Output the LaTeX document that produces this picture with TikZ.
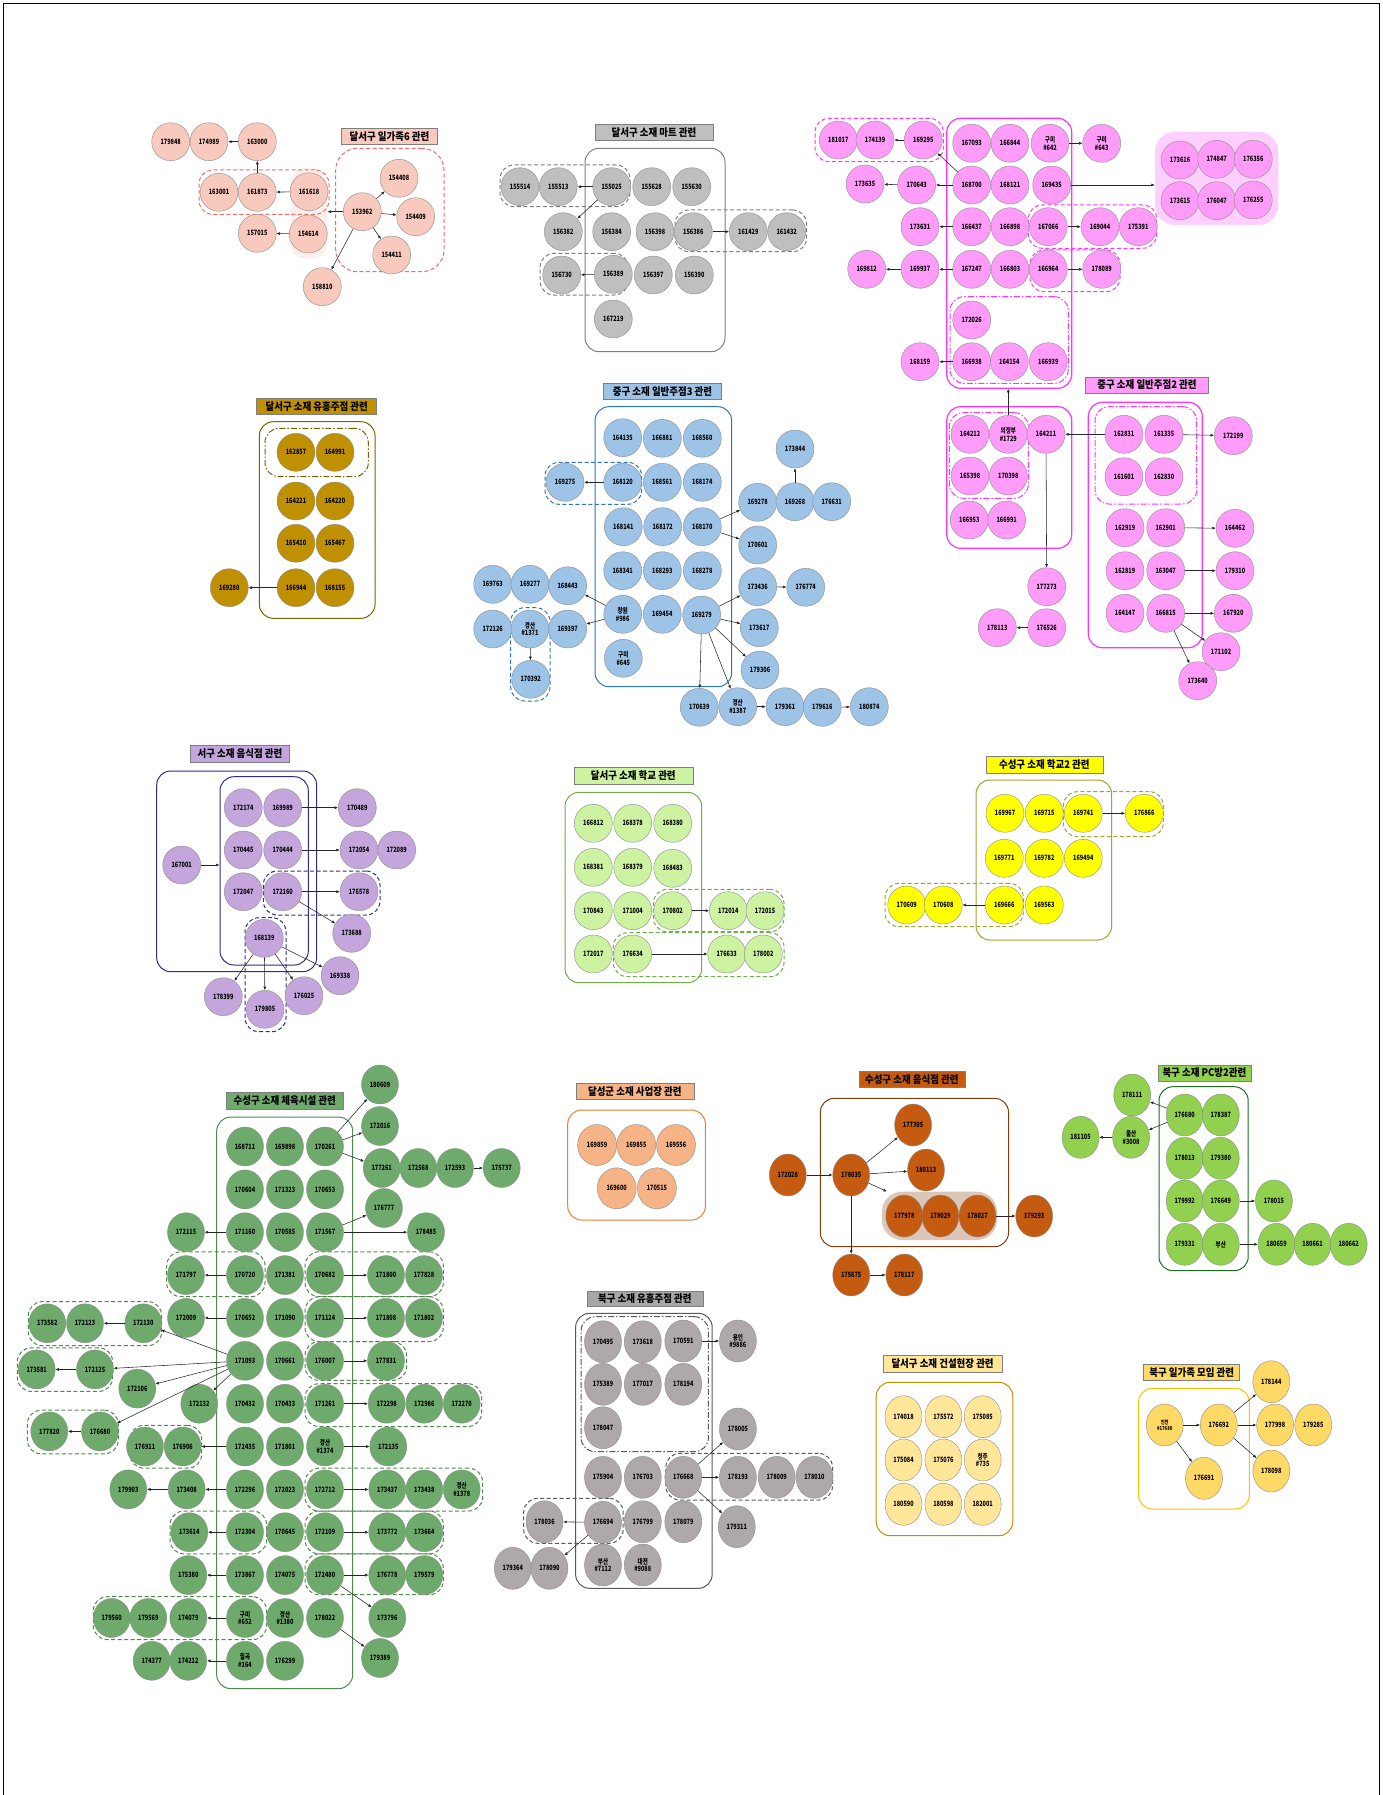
\documentclass[tikz,border=0pt]{standalone}
\usepackage{fontspec}
\setmainfont{Noto Sans CJK KR}
\newfontfamily\numfont[FakeStretch=0.76]{Noto Sans CJK KR}
\newfontfamily\ttlfont[FakeStretch=0.9]{Noto Sans CJK KR}
\usetikzlibrary{shapes.geometric, arrows.meta, fit}
\definecolor{cA}{HTML}{F8C9BD}
\definecolor{cAline}{HTML}{F06A6A}
\definecolor{cAshade}{HTML}{FDEFEC}
\definecolor{cB}{HTML}{BFBFBF}
\definecolor{cBline}{HTML}{7F7F7F}
\definecolor{cC}{HTML}{FF9CFA}
\definecolor{cCline}{HTML}{FF33FF}
\definecolor{cCshade}{HTML}{FFD0FF}
\definecolor{cE}{HTML}{BF9000}
\definecolor{cEline}{HTML}{7F6000}
\definecolor{cF}{HTML}{9DC3E6}
\definecolor{cFline}{HTML}{2E75B6}
\definecolor{cG}{HTML}{C4A6DD}
\definecolor{cGline}{HTML}{2E2E8A}
\definecolor{cH}{HTML}{CCF2A2}
\definecolor{cHline}{HTML}{70AD47}
\definecolor{cI}{HTML}{FFFF00}
\definecolor{cIline}{HTML}{A3A32E}
\definecolor{cJ}{HTML}{6DAA6B}
\definecolor{cJline}{HTML}{4E8A4C}
\definecolor{cK}{HTML}{F6B386}
\definecolor{cKline}{HTML}{ED7D31}
\definecolor{cL}{HTML}{C55A11}
\definecolor{cLline}{HTML}{843C0C}
\definecolor{cLshade}{HTML}{DCC6B8}
\definecolor{cM}{HTML}{92D050}
\definecolor{cMline}{HTML}{1E6B1E}
\definecolor{cN}{HTML}{AFA8AA}
\definecolor{cNline}{HTML}{595959}
\definecolor{cNtitle}{HTML}{A6A6A6}
\definecolor{cO}{HTML}{FFE699}
\definecolor{cOline}{HTML}{BF9000}
\definecolor{cP}{HTML}{FFD966}
\definecolor{cPline}{HTML}{FFC000}
\definecolor{nodeline}{HTML}{8C8C8C}
\definecolor{ttlline}{HTML}{7F7F7F}
\tikzset{
  nd/.style={ellipse, draw=nodeline, line width=0.4pt, minimum width=38pt, minimum height=38pt,
             inner sep=0pt, align=center, font=\numfont\bfseries\fontsize{7.3}{7.8}\selectfont},
  tall/.style={minimum width=37pt, minimum height=42pt},
  na/.style={nd, fill=cA}, nb/.style={nd, fill=cB}, nc/.style={nd, fill=cC},
  ne/.style={nd, fill=cE}, nf/.style={nd, fill=cF}, ng/.style={nd, fill=cG},
  nh/.style={nd, fill=cH}, ni/.style={nd, fill=cI}, nj/.style={nd, fill=cJ, minimum width=37pt, minimum height=39pt},
  nk/.style={nd, fill=cK, minimum width=39pt, minimum height=41pt},
  nl/.style={nd, tall, fill=cL}, nm/.style={nd, tall, fill=cM}, nn/.style={nd, tall, fill=cN},
  no/.style={nd, tall, fill=cO}, np/.style={nd, tall, fill=cP},
  ttl/.style={draw=ttlline, line width=0.5pt, fill=#1, inner sep=0pt, minimum height=16pt,
              font=\ttlfont\bfseries\fontsize{10.5}{12}\selectfont},
  grp/.style={draw=#1, line width=1pt, rounded corners=14pt, inner sep=0pt},
  dgrp/.style={grp=#1, dash pattern=on 4pt off 2.5pt},
  dagrp/.style={grp=#1, dash pattern=on 6pt off 2pt on 1.5pt off 2pt},
  shade/.style={fill=#1, rounded corners=14pt, inner sep=0pt},
  arr/.style={-{Latex[length=3.5pt,width=3pt]}, line width=0.55pt, draw=black!85}
}

\begin{document}
\begin{tikzpicture}[x=1pt, y=-1pt]
  \useasboundingbox (0,0) rectangle (1382,1795);
  \draw[line width=0.8pt] (3,1795) -- (3,3) -- (1379,3) -- (1379,1795);

  \node[shade=cAshade, fit={(290.7,168.3) (327.3,258.3)}] (ashade) {};
  \node[dgrp=cAline, fit={(199,170) (329,214.3)}] (agrp1) {};
  \node[dgrp=cAline, rounded corners=22pt, fit={(335.7,148.3) (444,271.7)}] (agrp2) {};
  \node[ttl=cA, minimum width=96pt] (attl) at (389.5,136.3) {달서구 일가족6 관련};
  \node[na] (a179848) at (170.7,141.7) {179848};
  \node[na] (a174989) at (209,141.7) {174989};
  \node[na] (a163000) at (257.3,141.7) {163000};
  \node[na] (a163001) at (219,192.3) {163001};
  \node[na] (a161873) at (257.3,192.3) {161873};
  \node[na] (a161618) at (309,191.7) {161618};
  \node[na] (a157015) at (257.3,233.3) {157015};
  \node[na] (a154614) at (308.3,234) {154614};
  \node[na] (a153962) at (362.3,211.7) {153962};
  \node[na] (a154408) at (399,178.3) {154408};
  \node[na] (a154409) at (415.7,216.7) {154409};
  \node[na] (a154411) at (391.7,255) {154411};
  \node[na] (a158810) at (322.3,286.7) {158810};
  \draw[arr] (a163000) -- (a174989);
  \draw[arr] (a161873) -- (a163000);
  \draw[arr] (a161618) -- (a161873);
  \draw[arr] (a154614) -- (a157015);
  \draw[arr] (a153962) -- (a153962 -| ashade.east);
  \draw[arr] (a153962) -- (a154408);
  \draw[arr] (a153962) -- (a154409);
  \draw[arr] (a153962) -- (a154411);
  \draw[arr] (a153962) -- (a158810);

  \node[grp=cBline, fit={(585,148.3) (725,351.7)}] (bbox) {};
  \node[dgrp=cBline, fit={(500,165) (630,206.7)}] (bgrp1) {};
  \node[dgrp=cBline, fit={(675,210) (806.7,251.7)}] (bgrp2) {};
  \node[dgrp=cBline, fit={(540,253.3) (628.3,295)}] (bgrp3) {};
  \node[ttl=cB, minimum width=118pt] (bttl) at (654,132.5) {달서구 소재 마트 관련};
  \node[nb] (b155514) at (520,186.7) {155514};
  \node[nb] (b155513) at (558.3,186.7) {155513};
  \node[nb] (b155025) at (611.7,186.7) {155025};
  \node[nb] (b155628) at (651.7,186.7) {155628};
  \node[nb] (b155630) at (691.7,186.7) {155630};
  \node[nb] (b156382) at (563.3,231.7) {156382};
  \node[nb] (b156384) at (611.7,231.7) {156384};
  \node[nb] (b156398) at (655,231.7) {156398};
  \node[nb] (b156386) at (693.3,231.7) {156386};
  \node[nb] (b161429) at (748.3,231.7) {161429};
  \node[nb] (b161432) at (786.7,231.7) {161432};
  \node[nb] (b156730) at (561.7,275) {156730};
  \node[nb] (b156389) at (613.3,274.3) {156389};
  \node[nb] (b156397) at (653.3,275) {156397};
  \node[nb] (b156390) at (694.3,275) {156390};
  \node[nb] (b167219) at (613.3,319) {167219};
  \draw[arr] (b155025) -- (b155513);
  \draw[arr] (b155025) -- (b156382);
  \draw[arr] (b156386) -- (b161429);
  \draw[arr] (b156389) -- (b156730);

  \node[shade=cCshade, rounded corners=20pt, fit={(1155,131.7) (1278.3,225)}] (cpink) {};
  \node[grp=cCline, line width=1.2pt, fit={(946.7,118.3) (1071.7,388.3)}] (cbox) {};
  \node[dgrp=cCline, fit={(815,118.3) (943.3,161.7)}] (cgrp1) {};
  \node[dgrp=cCline, fit={(1028.3,205) (1156.7,248.3)}] (cgrp2) {};
  \node[dgrp=cCline, fit={(1030,250) (1120,291.7)}] (cgrp3) {};
  \node[dagrp=cCline, fit={(950,296.7) (1068.3,383.3)}] (cgrp4) {};
  \node[nc] (c181017) at (838.3,140) {181017};
  \node[nc] (c174139) at (875,140) {174139};
  \node[nc] (c169295) at (923.3,140) {169295};
  \node[nc] (c167093) at (971.7,143.3) {167093};
  \node[nc] (c166844) at (1010,143.3) {166844};
  \node[nc] (c642) at (1050,143.3) {구미\\\#642};
  \node[nc] (c643) at (1101.7,143.3) {구미\\\#643};
  \node[nc] (c173635) at (865,184) {173635};
  \node[nc] (c170643) at (916.7,185) {170643};
  \node[nc] (c168700) at (971.7,185) {168700};
  \node[nc] (c168121) at (1010,185) {168121};
  \node[nc] (c169435) at (1051.7,185) {169435};
  \node[nc] (c173631) at (920,226.7) {173631};
  \node[nc] (c166437) at (971.7,226.7) {166437};
  \node[nc] (c166898) at (1010,226.7) {166898};
  \node[nc] (c167066) at (1048.3,226.7) {167066};
  \node[nc] (c169044) at (1100,226.7) {169044};
  \node[nc] (c175391) at (1138.3,226.7) {175391};
  \node[nc] (c169812) at (866.7,269.3) {169812};
  \node[nc] (c169937) at (920,269.3) {169937};
  \node[nc] (c167247) at (971.7,269.3) {167247};
  \node[nc] (c166803) at (1010,269.3) {166803};
  \node[nc] (c166964) at (1048.3,269.3) {166964};
  \node[nc] (c178089) at (1101.7,269.3) {178089};
  \node[nc] (c172026) at (971.7,320) {172026};
  \node[nc] (c168159) at (920,361.7) {168159};
  \node[nc] (c166938) at (971.7,361.7) {166938};
  \node[nc] (c164154) at (1009.3,361.7) {164154};
  \node[nc] (c166939) at (1048.3,361.7) {166939};
  \node[nc] (c173616) at (1180,160) {173616};
  \node[nc] (c174847) at (1216.7,159.3) {174847};
  \node[nc] (c176356) at (1253.3,159.3) {176356};
  \node[nc] (c173615) at (1180,200.7) {173615};
  \node[nc] (c176047) at (1216.7,200.7) {176047};
  \node[nc] (c176255) at (1253.3,200) {176255};
  \draw[arr] (c169295) -- (c174139);
  \draw[arr] (c168700) -- (c169295);
  \draw[arr] (c168700) -- (c170643);
  \draw[arr] (c170643) -- (c173635);
  \draw[arr] (c642) -- (c643);
  \draw[arr] (c169435) -- (c169435 -| cpink.west);
  \draw[arr] (c166437) -- (c173631);
  \draw[arr] (c167066) -- (c169044);
  \draw[arr] (c167247) -- (c169937);
  \draw[arr] (c169937) -- (c169812);
  \draw[arr] (c166964) -- (c178089);
  \draw[arr] (c166938) -- (c168159);

  \node[grp=cCline, line width=1.2pt, fit={(946.7,406.7) (1071.7,548.3)}] (dbox1) {};
  \node[dagrp=cCline, fit={(949.3,412.7) (1028.3,498.3)}] (dgrp1) {};
  \node[grp=cCline, line width=1.2pt, fit={(1088.3,402.3) (1202.3,647.7)}] (dbox2) {};
  \node[dagrp=cCline, fit={(1095,406.7) (1196.7,504)}] (dgrp2) {};
  \node[ttl=cC, minimum width=123pt] (dttl) at (1147,385) {중구 소재 일반주점2 관련};
  \node[nc] (d164212) at (970,434.3) {164212};
  \node[nc] (d1729) at (1008.3,434.3) {의정부\\\#1729};
  \node[nc] (d164211) at (1046,434.3) {164211};
  \node[nc] (d165398) at (970,476) {165398};
  \node[nc] (d170398) at (1008.3,476) {170398};
  \node[nc] (d166953) at (969.3,520) {166953};
  \node[nc] (d166991) at (1006.7,520) {166991};
  \node[nc] (d162831) at (1124,434.3) {162831};
  \node[nc] (d161335) at (1164,434.3) {161335};
  \node[nc] (d172199) at (1233.3,435.7) {172199};
  \node[nc] (d161601) at (1124,476.7) {161601};
  \node[nc] (d162830) at (1164,476.7) {162830};
  \node[nc] (d162919) at (1125,527.7) {162919};
  \node[nc] (d162901) at (1165.7,527.7) {162901};
  \node[nc] (d164462) at (1235,528.3) {164462};
  \node[nc] (d162819) at (1125,570.7) {162819};
  \node[nc] (d163047) at (1165.7,570.7) {163047};
  \node[nc] (d179310) at (1235,570.7) {179310};
  \node[nc] (d164147) at (1125,613.3) {164147};
  \node[nc] (d166815) at (1165.7,613.3) {166815};
  \node[nc] (d167920) at (1233.3,613.3) {167920};
  \node[nc] (d171102) at (1221,651.7) {171102};
  \node[nc] (d173640) at (1197.7,680.7) {173640};
  \node[nc] (d177273) at (1046.7,586.7) {177273};
  \node[nc] (d176526) at (1046.7,627.7) {176526};
  \node[nc] (d178113) at (997.3,627.7) {178113};
  \draw[arr] (d1729) -- (d1729 |- cbox.south);
  \draw[arr] (d162831) -- (d164211);
  \draw[arr] (d161335) -- (d172199);
  \draw[arr] (d164211) -- (d177273);
  \draw[arr] (d176526) -- (d178113);
  \draw[arr] (d162901) -- (d164462);
  \draw[arr] (d163047) -- (d179310);
  \draw[arr] (d166815) -- (d167920);
  \draw[arr] (d166815) -- (d171102);
  \draw[arr] (d166815) -- (d173640);

  \node[grp=cEline, fit={(259.3,421.7) (375,618.3)}] (ebox) {};
  \node[dagrp=cEline, fit={(265,428.3) (368.3,476.7)}] (egrp1) {};
  \node[ttl=cE, minimum width=120pt] (ettl) at (316.7,406.3) {달서구 소재 유흥주점 관련};
  \node[ne] (e162857) at (296,452.3) {162857};
  \node[ne] (e164991) at (335,452.3) {164991};
  \node[ne] (e164221) at (296,501) {164221};
  \node[ne] (e164220) at (335,501) {164220};
  \node[ne] (e165410) at (296,543.3) {165410};
  \node[ne] (e165467) at (335,543.3) {165467};
  \node[ne] (e166944) at (296,587.7) {166944};
  \node[ne] (e168155) at (335,587.7) {168155};
  \node[ne] (e169280) at (229.3,587.7) {169280};
  \draw[arr] (e166944) -- (e169280);

  \node[grp=cFline, fit={(595,406.7) (731.7,686.7)}] (fbox) {};
  \node[dgrp=cFline, fit={(545,462.3) (641.7,504.3)}] (fgrp1) {};
  \node[dgrp=cFline, fit={(510.7,607.7) (550,701)}] (fgrp2) {};
  \node[ttl=cF, minimum width=118pt] (fttl) at (662.5,391.2) {중구 소재 일반주점3 관련};
  \node[nf] (f164135) at (622.7,437.7) {164135};
  \node[nf] (f166881) at (662.3,438.3) {166881};
  \node[nf] (f168560) at (702.3,438.3) {168560};
  \node[nf] (f169275) at (565,482.3) {169275};
  \node[nf] (f168120) at (622.7,482.3) {168120};
  \node[nf] (f168561) at (662.3,482.3) {168561};
  \node[nf] (f168174) at (702.3,482.3) {168174};
  \node[nf] (f168141) at (623.3,526.7) {168141};
  \node[nf] (f168172) at (662.7,526.7) {168172};
  \node[nf] (f168170) at (702.3,526.7) {168170};
  \node[nf] (f168341) at (622.7,570.7) {168341};
  \node[nf] (f168293) at (662.3,570.7) {168293};
  \node[nf] (f168278) at (702.3,570.7) {168278};
  \node[nf] (f986) at (622.7,614.3) {창원\\\#986};
  \node[nf] (f169454) at (662.3,614.3) {169454};
  \node[nf] (f169279) at (701.7,615) {169279};
  \node[nf] (f645) at (623.3,658.3) {구미\\\#645};
  \node[nf] (f169763) at (492.7,584.3) {169763};
  \node[nf] (f169277) at (530,584.3) {169277};
  \node[nf] (f168443) at (567.7,585.7) {168443};
  \node[nf] (f172126) at (492.7,629) {172126};
  \node[nf] (f1371) at (530,629) {경산\\\#1371};
  \node[nf] (f169397) at (567.7,629) {169397};
  \node[nf] (f170392) at (530.7,679.3) {170392};
  \node[nf] (f173844) at (795,449) {173844};
  \node[nf] (f169278) at (757.7,502.3) {169278};
  \node[nf] (f169268) at (795,501.7) {169268};
  \node[nf] (f176631) at (831.7,501.7) {176631};
  \node[nf] (f170601) at (757.7,545) {170601};
  \node[nf] (f173436) at (757.7,586.7) {173436};
  \node[nf] (f176774) at (805.7,587.3) {176774};
  \node[nf] (f173617) at (759.3,627.7) {173617};
  \node[nf] (f179306) at (760,670) {179306};
  \node[nf] (f170639) at (699.3,707.3) {170639};
  \node[nf] (f1387) at (737.7,706.7) {경산\\\#1387};
  \node[nf] (f179361) at (785,706.7) {179361};
  \node[nf] (f179616) at (822.3,707.3) {179616};
  \node[nf] (f180874) at (869.3,706.7) {180874};
  \draw[arr] (f168120) -- (f169275);
  \draw[arr] (f169268) -- (f173844);
  \draw[arr] (f168170) -- (f169278);
  \draw[arr] (f168170) -- (f170601);
  \draw[arr] (f169279) -- (f173436);
  \draw[arr] (f169279) -- (f173617);
  \draw[arr] (f169279) -- (f179306);
  \draw[arr] (f169279) -- (f170639);
  \draw[arr] (f169279) -- (f1387);
  \draw[arr] (f173436) -- (f176774);
  \draw[arr] (f1387) -- (f179361);
  \draw[arr] (f179616) -- (f180874);
  \draw[arr] (f986) -- (f168443);
  \draw[arr] (f986) -- (f169397);
  \draw[arr] (f1371) -- (f170392);

  \node[grp=cGline, fit={(156.7,771) (316.7,971.7)}] (gbox1) {};
  \node[grp=cGline, fit={(220,776.7) (308.3,965)}] (gbox2) {};
  \node[dgrp=cGline, fit={(263.3,871) (380,915)}] (ggrp1) {};
  \node[dgrp=cGline, fit={(245,917.7) (286,1031.7)}] (ggrp2) {};
  \node[ttl=cG, minimum width=99pt, minimum height=17pt] (gttl) at (240,753.3) {서구 소재 음식점 관련};
  \node[ng] (g172174) at (243.3,807.7) {172174};
  \node[ng] (g169989) at (282.7,807.7) {169989};
  \node[ng] (g170489) at (357.3,807.7) {170489};
  \node[ng] (g167001) at (181.7,865) {167001};
  \node[ng] (g170445) at (243.3,850) {170445};
  \node[ng] (g170444) at (282.7,850) {170444};
  \node[ng] (g172054) at (359,850) {172054};
  \node[ng] (g172089) at (396.7,850) {172089};
  \node[ng] (g172047) at (243.3,891.7) {172047};
  \node[ng] (g172160) at (282.7,891.7) {172160};
  \node[ng] (g176578) at (359,891.7) {176578};
  \node[ng] (g173688) at (351.7,933.3) {173688};
  \node[ng] (g168139) at (264.3,938.3) {168139};
  \node[ng] (g169338) at (340,975.7) {169338};
  \node[ng] (g178399) at (223.3,996.7) {178399};
  \node[ng] (g179805) at (265,1009.3) {179805};
  \node[ng] (g176025) at (304,995.7) {176025};
  \draw[arr] (g169989) -- (g170489);
  \draw[arr] (g170444) -- (g172054);
  \draw[arr] (g167001) -- (g167001 -| gbox2.west);
  \draw[arr] (g172160) -- (g176578);
  \draw[arr] (g172160) -- (g173688);
  \draw[arr] (g168139) -- (g169338);
  \draw[arr] (g168139) -- (g178399);
  \draw[arr] (g168139) -- (g179805);
  \draw[arr] (g168139) -- (g176025);

  \node[grp=cHline, fit={(565,792.3) (701.7,982.7)}] (hbox) {};
  \node[dgrp=cHline, fit={(653.3,889.3) (784,931.7)}] (hgrp1) {};
  \node[dgrp=cHline, fit={(613.3,932.7) (784,976.7)}] (hgrp2) {};
  \node[ttl=cH, minimum width=119pt, minimum height=17pt] (httl) at (633.3,775.8) {달서구 소재 학교 관련};
  \node[nh] (h166812) at (593.3,823.3) {166812};
  \node[nh] (h168378) at (632.7,823.3) {168378};
  \node[nh] (h168380) at (672.7,823.3) {168380};
  \node[nh] (h168381) at (593.3,867.3) {168381};
  \node[nh] (h168379) at (632.7,867.3) {168379};
  \node[nh] (h168483) at (672.7,868.3) {168483};
  \node[nh] (h170843) at (593.3,910.7) {170843};
  \node[nh] (h171004) at (632.7,910.7) {171004};
  \node[nh] (h170802) at (672.7,910.7) {170802};
  \node[nh] (h172014) at (728.3,910.7) {172014};
  \node[nh] (h172015) at (765,910.7) {172015};
  \node[nh] (h172017) at (593.3,954) {172017};
  \node[nh] (h176634) at (632.7,954) {176634};
  \node[nh] (h176633) at (726.7,954) {176633};
  \node[nh] (h178002) at (763.3,954) {178002};
  \draw[arr] (h170802) -- (h172014);
  \draw[arr] (h176634) -- (h176633);

  \node[grp=cIline, fit={(976,780) (1111.7,940)}] (ibox) {};
  \node[dgrp=cIline, fit={(1063.3,791.7) (1163.3,836.7)}] (igrp1) {};
  \node[dgrp=cIline, fit={(885,883.3) (1023.3,926.7)}] (igrp2) {};
  \node[ttl=cI, minimum width=117pt, minimum height=17pt] (ittl) at (1044.3,765) {수성구 소재 학교2 관련};
  \node[ni] (i169967) at (1005,813.3) {169967};
  \node[ni] (i169715) at (1044.3,813.3) {169715};
  \node[ni] (i169741) at (1083.3,813.3) {169741};
  \node[ni] (i176866) at (1144.3,813.3) {176866};
  \node[ni] (i169771) at (1004.3,858.3) {169771};
  \node[ni] (i169782) at (1044.3,858.3) {169782};
  \node[ni] (i169494) at (1083.3,858.3) {169494};
  \node[ni] (i170609) at (906.7,905) {170609};
  \node[ni] (i170608) at (943.3,905) {170608};
  \node[ni] (i169666) at (1004.3,905) {169666};
  \node[ni] (i169563) at (1044.3,905) {169563};
  \draw[arr] (i169741) -- (i176866);
  \draw[arr] (i169666) -- (i170608);

  \node[grp=cJline, fit={(216.7,1117.1) (352.7,1688.6)}] (jbox) {};
  \node[dgrp=cJline, fit={(166.7,1251.8) (265,1296.7)}] (jgrp1) {};
  \node[dgrp=cJline, fit={(305,1251.8) (443.3,1296.7)}] (jgrp2) {};
  \node[dgrp=cJline, fit={(28.3,1301.6) (161.7,1345.7)}] (jgrp3) {};
  \node[dgrp=cJline, fit={(305,1296.7) (443.3,1341.6)}] (jgrp4) {};
  \node[dgrp=cJline, fit={(17.3,1347.8) (112.7,1391.4)}] (jgrp5) {};
  \node[dgrp=cJline, fit={(305,1341.6) (406.7,1380.4)}] (jgrp6) {};
  \node[dgrp=cJline, fit={(305,1383.7) (481.7,1426.5)}] (jgrp7) {};
  \node[dgrp=cJline, fit={(27.3,1410.2) (118.3,1453.9)}] (jgrp8) {};
  \node[dgrp=cJline, fit={(130,1425.3) (201.7,1468.2)}] (jgrp9) {};
  \node[dgrp=cJline, fit={(305,1468.2) (482.7,1511)}] (jgrp10) {};
  \node[dgrp=cJline, fit={(170,1511) (266.7,1553.9)}] (jgrp11) {};
  \node[dgrp=cJline, fit={(305,1511) (443.3,1553.9)}] (jgrp12) {};
  \node[dgrp=cJline, fit={(305,1553.9) (443.3,1594.7)}] (jgrp13) {};
  \node[dgrp=cJline, fit={(93.3,1596.7) (266.7,1639.6)}] (jgrp14) {};
  \node[ttl=cJ, minimum width=117pt, minimum height=17pt] (jttl) at (284.7,1100.4) {수성구 소재 체육시설 관련};
  \node[nj] (j168711) at (245,1146.5) {168711};
  \node[nj] (j169898) at (285,1146.5) {169898};
  \node[nj] (j170261) at (325,1146.5) {170261};
  \node[nj] (j170604) at (245,1189.4) {170604};
  \node[nj] (j171323) at (285,1189.4) {171323};
  \node[nj] (j170653) at (325,1189.4) {170653};
  \node[nj] (j171160) at (245,1232.2) {171160};
  \node[nj] (j170585) at (285,1232.2) {170585};
  \node[nj] (j171567) at (325,1232.2) {171567};
  \node[nj] (j170720) at (245,1275.1) {170720};
  \node[nj] (j171381) at (285,1275.1) {171381};
  \node[nj] (j170682) at (325,1275.1) {170682};
  \node[nj] (j170652) at (245,1317.9) {170652};
  \node[nj] (j171090) at (285,1317.9) {171090};
  \node[nj] (j171124) at (325,1317.9) {171124};
  \node[nj] (j171093) at (245,1360.8) {171093};
  \node[nj] (j170661) at (285,1360.8) {170661};
  \node[nj] (j176007) at (325,1360.8) {176007};
  \node[nj] (j170432) at (245,1403.7) {170432};
  \node[nj] (j170433) at (285,1403.7) {170433};
  \node[nj] (j171261) at (325,1403.7) {171261};
  \node[nj] (j172435) at (245,1446.5) {172435};
  \node[nj] (j171801) at (285,1446.5) {171801};
  \node[nj] (j1374) at (325,1446.5) {경산\\\#1374};
  \node[nj] (j172296) at (245,1489.4) {172296};
  \node[nj] (j172023) at (285,1489.4) {172023};
  \node[nj] (j172712) at (325,1489.4) {172712};
  \node[nj] (j172304) at (245,1532.2) {172304};
  \node[nj] (j170645) at (285,1532.2) {170645};
  \node[nj] (j172109) at (325,1532.2) {172109};
  \node[nj] (j173867) at (245,1575.1) {173867};
  \node[nj] (j174075) at (285,1575.1) {174075};
  \node[nj] (j172480) at (325,1575.1) {172480};
  \node[nj] (j652) at (245,1618) {구미\\\#652};
  \node[nj] (j1380) at (285,1618) {경산\\\#1380};
  \node[nj] (j178022) at (325,1618) {178022};
  \node[nj] (j164) at (245,1660.8) {칠곡\\\#164};
  \node[nj] (j176299) at (285,1660.8) {176299};
  \node[nj] (j180609) at (380,1084.5) {180609};
  \node[nj] (j172016) at (380,1126) {172016};
  \node[nj] (j177261) at (381.7,1168) {177261};
  \node[nj] (j172568) at (418.3,1168) {172568};
  \node[nj] (j172593) at (455,1168) {172593};
  \node[nj] (j175737) at (501.7,1168) {175737};
  \node[nj] (j176777) at (384,1208) {176777};
  \node[nj] (j178485) at (426,1232.2) {178485};
  \node[nj] (j171800) at (386,1275.1) {171800};
  \node[nj] (j177828) at (424,1275.1) {177828};
  \node[nj] (j171808) at (386,1317.9) {171808};
  \node[nj] (j171802) at (424,1317.9) {171802};
  \node[nj] (j177831) at (386,1360.8) {177831};
  \node[nj] (j172298) at (386.7,1403.7) {172298};
  \node[nj] (j172986) at (424.3,1403.7) {172986};
  \node[nj] (j172270) at (461.7,1403.7) {172270};
  \node[nj] (j172135) at (388.3,1446.5) {172135};
  \node[nj] (j173437) at (387.3,1489.4) {173437};
  \node[nj] (j173438) at (424.3,1489.4) {173438};
  \node[nj] (j1378) at (461.7,1489.4) {경산\\\#1378};
  \node[nj] (j173772) at (387.3,1532.2) {173772};
  \node[nj] (j173664) at (424.3,1532.2) {173664};
  \node[nj] (j176778) at (387.3,1575.1) {176778};
  \node[nj] (j179579) at (424.3,1575.1) {179579};
  \node[nj] (j173796) at (387.3,1618) {173796};
  \node[nj] (j179389) at (380,1658) {179389};
  \node[nj] (j172115) at (186,1232.2) {172115};
  \node[nj] (j171797) at (186,1275.1) {171797};
  \node[nj] (j172009) at (186,1317.9) {172009};
  \node[nj] (j173582) at (47.3,1323.3) {173582};
  \node[nj] (j172123) at (85,1323.3) {172123};
  \node[nj] (j172130) at (143.3,1323.3) {172130};
  \node[nj] (j173581) at (36.7,1369.4) {173581};
  \node[nj] (j172125) at (95,1369.4) {172125};
  \node[nj] (j172106) at (137.3,1388.6) {172106};
  \node[nj] (j172132) at (199.3,1403.7) {172132};
  \node[nj] (j177820) at (49.3,1431.4) {177820};
  \node[nj] (j176680) at (100,1431.4) {176680};
  \node[nj] (j176911) at (145,1446.5) {176911};
  \node[nj] (j176906) at (182.7,1446.5) {176906};
  \node[nj] (j179903) at (128.3,1489.4) {179903};
  \node[nj] (j173408) at (186.7,1489.4) {173408};
  \node[nj] (j173614) at (189.3,1532.2) {173614};
  \node[nj] (j175380) at (188.3,1575.1) {175380};
  \node[nj] (j179560) at (111.7,1618) {179560};
  \node[nj] (j179569) at (148.3,1618) {179569};
  \node[nj] (j174079) at (188.3,1618) {174079};
  \node[nj] (j174377) at (151.7,1660.8) {174377};
  \node[nj] (j174212) at (188.3,1660.8) {174212};
  \draw[arr] (j170261) -- (j180609);
  \draw[arr] (j170261) -- (j172016);
  \draw[arr] (j170261) -- (j177261);
  \draw[arr] (j172593) -- (j175737);
  \draw[arr] (j171567) -- (j176777);
  \draw[arr] (j171567) -- (j178485);
  \draw[arr] (j171160) -- (j172115);
  \draw[arr] (j170720) -- (j171797);
  \draw[arr] (j170682) -- (j171800);
  \draw[arr] (j170652) -- (j172009);
  \draw[arr] (j171124) -- (j171808);
  \draw[arr] (j172130) -- (j172123);
  \draw[arr] (j171093) -- (j172130);
  \draw[arr] (j171093) -- (j172125);
  \draw[arr] (j171093) -- (j172106);
  \draw[arr] (j171093) -- (j172132);
  \draw[arr] (j171093) -- (j176680);
  \draw[arr] (j172125) -- (j173581);
  \draw[arr] (j176680) -- (j177820);
  \draw[arr] (j176007) -- (j177831);
  \draw[arr] (j171261) -- (j172298);
  \draw[arr] (j172435) -- (j176906);
  \draw[arr] (j1374) -- (j172135);
  \draw[arr] (j172296) -- (j173408);
  \draw[arr] (j173408) -- (j179903);
  \draw[arr] (j172712) -- (j173437);
  \draw[arr] (j172304) -- (j173614);
  \draw[arr] (j172109) -- (j173772);
  \draw[arr] (j173867) -- (j175380);
  \draw[arr] (j172480) -- (j176778);
  \draw[arr] (j172480) -- (j173796);
  \draw[arr] (j652) -- (j174079);
  \draw[arr] (j178022) -- (j179389);
  \draw[arr] (j164) -- (j174212);

  \node[grp=cKline, fit={(567.7,1110) (705.4,1220)}] (kbox) {};
  \node[ttl=cK, minimum width=118pt] (kttl) at (634.8,1091.3) {달성군 소재 사업장 관련};
  \node[nk] (k169859) at (597.1,1145) {169859};
  \node[nk] (k169855) at (636.3,1145) {169855};
  \node[nk] (k169556) at (676,1145) {169556};
  \node[nk] (k169600) at (616.7,1188.3) {169600};
  \node[nk] (k170515) at (656.9,1188.3) {170515};

  \node[grp=cLline, fit={(820.3,1098.3) (1008.5,1246.7)}] (lbox) {};
  \node[shade=cLshade, rounded corners=20pt, fit={(882,1191.7) (997,1240)}] (lshade) {};
  \node[ttl=cL, minimum width=106pt] (lttl) at (911.8,1079.5) {수성구 소재 음식점 관련};
  \node[nl] (l177305) at (913.1,1125) {177305};
  \node[nl] (l172028) at (787.8,1175) {172028};
  \node[nl] (l178035) at (851.2,1175) {178035};
  \node[nl] (l180113) at (926,1170) {180113};
  \node[nl] (l177978) at (904.3,1216) {177978};
  \node[nl] (l178029) at (940.4,1216) {178029};
  \node[nl] (l178027) at (977.5,1216) {178027};
  \node[nl] (l179293) at (1034.2,1216) {179293};
  \node[nl] (l175675) at (851.2,1275) {175675};
  \node[nl] (l178117) at (904.3,1275) {178117};
  \draw[arr] (l172028) -- (l178035);
  \draw[arr] (l178035) -- (l177305);
  \draw[arr] (l178035) -- (l180113);
  \draw[arr] (l178035) -- (lshade);
  \draw[arr] (l178035) -- (l175675);
  \draw[arr] (l178027) -- (l179293);
  \draw[arr] (l175675) -- (l178117);

  \node[grp=cMline, fit={(1159,1086.7) (1248.2,1270.7)}] (mbox) {};
  \node[ttl=cM, minimum width=93pt] (mttl) at (1204.4,1072.8) {북구 소재 PC방2관련};
  \node[nm] (m178111) at (1132.2,1095) {178111};
  \node[nm] (m181105) at (1080.6,1137.3) {181105};
  \node[nm] (m3008) at (1131.1,1137.3) {울산\\\#3008};
  \node[nm] (m176680) at (1184.7,1115) {176680};
  \node[nm] (m178387) at (1220.8,1115) {178387};
  \node[nm] (m178013) at (1184.7,1158.3) {178013};
  \node[nm] (m179380) at (1220.8,1158.3) {179380};
  \node[nm] (m179992) at (1184.7,1201) {179992};
  \node[nm] (m176649) at (1220.8,1201) {176649};
  \node[nm] (m178015) at (1273.9,1201) {178015};
  \node[nm] (m179331) at (1184.7,1244.3) {179331};
  \node[nm] (mbusan) at (1220.8,1244.3) {부산};
  \node[nm] (m180659) at (1276.5,1244.3) {180659};
  \node[nm] (m180661) at (1312.6,1244.3) {180661};
  \node[nm] (m180662) at (1348.7,1244.3) {180662};
  \draw[arr] (m176680) -- (m178111);
  \draw[arr] (m176680) -- (m3008);
  \draw[arr] (m3008) -- (m181105);
  \draw[arr] (m176649) -- (m178015);
  \draw[arr] (mbusan) -- (m180659);

  \node[grp=cNline, fit={(575.6,1313.3) (712.2,1588.3)}] (nbox) {};
  \node[dagrp=cNline, fit={(581.1,1316.7) (708.4,1451.7)}] (ngrp0) {};
  \node[dgrp=cNline, fit={(665.8,1453.3) (832.5,1500)}] (ngrp1) {};
  \node[dgrp=cNline, fit={(523.7,1498.3) (623.2,1543.3)}] (ngrp2) {};
  \node[ttl=cNtitle, minimum width=116pt, minimum height=15pt] (nttl) at (644.8,1298.3) {북구 소재 유흥주점 관련};
  \node[nn] (n170495) at (603,1341.7) {170495};
  \node[nn] (n173618) at (642.8,1341.7) {173618};
  \node[nn] (n170591) at (683.3,1341) {170591};
  \node[nn] (n9886) at (737.9,1341) {용인\\\#9886};
  \node[nn] (n175389) at (603,1384.3) {175389};
  \node[nn] (n177017) at (642.8,1384.3) {177017};
  \node[nn] (n178194) at (683.3,1384.3) {178194};
  \node[nn] (n178047) at (603,1427.7) {178047};
  \node[nn] (n178005) at (737.9,1429) {178005};
  \node[nn] (n175904) at (603,1477.3) {175904};
  \node[nn] (n176703) at (642.8,1477.3) {176703};
  \node[nn] (n176668) at (683.3,1477.3) {176668};
  \node[nn] (n178193) at (737.9,1477.3) {178193};
  \node[nn] (n178009) at (776.7,1477.3) {178009};
  \node[nn] (n178010) at (814.4,1477.3) {178010};
  \node[nn] (n178036) at (544.5,1521.7) {178036};
  \node[nn] (n176694) at (603,1522.3) {176694};
  \node[nn] (n176799) at (642.8,1521.7) {176799};
  \node[nn] (n178079) at (683.3,1521.7) {178079};
  \node[nn] (n179311) at (736.8,1526.7) {179311};
  \node[nn] (n179364) at (512.8,1568.3) {179364};
  \node[nn] (n178090) at (549.4,1568.3) {178090};
  \node[nn] (n7112) at (603,1565) {부산\\\#7112};
  \node[nn] (n9088) at (642.8,1565) {대전\\\#9088};
  \draw[arr] (n170591) -- (n9886);
  \draw[arr] (n176668) -- (n178005);
  \draw[arr] (n176668) -- (n178193);
  \draw[arr] (n176668) -- (n179311);
  \draw[arr] (n176694) -- (n178036);
  \draw[arr] (n176694) -- (n178090);

  \node[grp=cOline, fit={(876.2,1382.3) (1012.8,1535.7)}] (obox) {};
  \node[ttl=cO, minimum width=119pt, minimum height=17pt] (ottl) at (942.6,1363.3) {달서구 소재 건설현장 관련};
  \node[no] (o174018) at (903.5,1416.7) {174018};
  \node[no] (o175572) at (943.4,1416.7) {175572};
  \node[no] (o175085) at (982.7,1416.7) {175085};
  \node[no] (o175084) at (903.5,1460) {175084};
  \node[no] (o175076) at (943.4,1460) {175076};
  \node[no] (o735) at (982.7,1460) {청주\\\#735};
  \node[no] (o180590) at (903.5,1504.3) {180590};
  \node[no] (o180598) at (943.4,1504.3) {180598};
  \node[no] (o182001) at (982.7,1504.3) {182001};

  \node[grp=cPline, fit={(1138.5,1388.3) (1249.4,1509)}] (pbox) {};
  \node[ttl=cP, minimum width=96pt] (pttl) at (1191.7,1372.2) {북구 일가족 모임 관련};
  \node[np, font=\numfont\bfseries\fontsize{5.5}{6.5}\selectfont] (p17680) at (1164.7,1425) {인천\\\#17680};
  \node[np] (p176692) at (1218.8,1425) {176692};
  \node[np] (p176691) at (1204,1478.3) {176691};
  \node[np] (p178144) at (1271.3,1381.7) {178144};
  \node[np] (p177998) at (1275.1,1425) {177998};
  \node[np] (p179285) at (1313.3,1425) {179285};
  \node[np] (p178098) at (1271.3,1471) {178098};
  \draw[arr] (p17680) -- (p176692);
  \draw[arr] (p17680) -- (p176691);
  \draw[arr] (p176692) -- (p178144);
  \draw[arr] (p176692) -- (p177998);
  \draw[arr] (p176692) -- (p178098);
\end{tikzpicture}
\end{document}
